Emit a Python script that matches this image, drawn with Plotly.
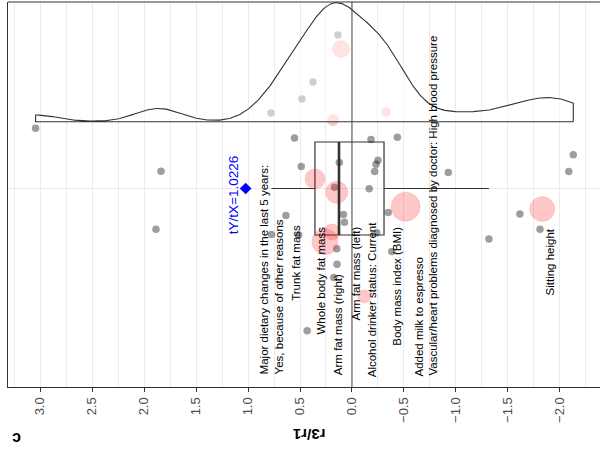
import numpy as np
import plotly.graph_objects as go

# ---- data -------------------------------------------------------------
# r3/r1 ratio of every feature (grey markers) and its vertical jitter
grey_ratio = [3.043, 1.837, 1.885, 0.779, 0.481, 0.375, 0.135, 0.553, 0.488,
              0.122, -0.183, -0.436, -0.250, -0.231, -0.218, -0.165, 0.168,
              0.082, 0.072, -0.926, -0.349, -0.238, -0.383, 0.146, 0.144,
              0.175, 0.635, 0.774, 0.513, 0.431, -2.128, -2.085, -1.615,
              -1.808, -1.317]
grey_jitter = [0.602, 0.172, -0.408, 0.755, 0.895, 1.065, 1.535, 0.505, 0.220,
               0.260, 0.490, 0.512, 0.282, 0.243, 0.170, -0.002, 0.012,
               -0.260, -0.338, 0.160, -0.240, -0.442, -0.630, -0.602, -0.757,
               -0.890, -0.270, -0.460, -0.465, -1.422, 0.338, 0.170, -0.255,
               -0.408, -0.505]

# highlighted features (red bubbles), bubble weight sets the marker size
red_ratio = [0.106, 0.183, -0.327, 0.356, 0.147, 0.260, 0.192, -0.118,
             -0.516, -1.830]
red_jitter = [1.395, 0.685, 0.765, 0.095, -0.038, -0.532, -0.435, -1.080,
              -0.182, -0.205]
red_weight = [1.7, 1.1, 0.9, 2.0, 2.2, 2.6, 1.6, 1.3, 2.9, 2.5]

# box summary of all ratios
box_low, box_q1, box_median, box_q3, box_high = -1.317, -0.308, 0.125, 0.356, 0.774

# overall time ratio
ty_tx = 1.0226

# feature labels
label_text = [
    "Major dietary changes in the last 5 years:<br>Yes, because of other reasons",
    "Trunk fat mass",
    "Whole body fat mass",
    "Arm fat mass (right)",
    "Arm fat mass (left)",
    "Alcohol drinker status: Current",
    "Body mass index (BMI)",
    "Added milk to espresso",
    "Vascular/heart problems diagnosed by doctor: High blood pressure",
    "Sitting height",
]

# ---- layout constants -------------------------------------------------
label_x = [0.775, 0.540, 0.300, 0.138, -0.034, -0.190, -0.426, -0.640, -0.775, -1.904]
label_y = [-1.875, -1.145, -1.482, -1.885, -1.345, -1.905, -1.595, -1.905, -1.895, -1.085]
violin_base = 0.668
violin_height = 1.19
box_width = 0.93
FONT = "Liberation Sans, Arial, sans-serif"
INK = "#333333"

# ---- density of all ratios (gaussian kernel, nrd0 bandwidth) ----------
vals = np.array(grey_ratio + red_ratio)
n = len(vals)
iqr = np.percentile(vals, 75) - np.percentile(vals, 25)
bw = 0.9 * min(vals.std(ddof=1), iqr / 1.34) * n ** -0.2
grid = np.linspace(vals.min(), vals.max(), 512)
dens = np.exp(-0.5 * ((grid[:, None] - vals[None, :]) / bw) ** 2).sum(axis=1)
dens = dens / dens.max() * violin_height
vx = np.concatenate([[grid[0]], grid, [grid[-1], grid[0]]])
vy = np.concatenate([[violin_base], violin_base + dens, [violin_base, violin_base]])

fig = go.Figure()

fig.add_trace(go.Scatter(
    x=grey_ratio, y=grey_jitter, mode="markers",
    marker=dict(size=7.5, color="rgba(0,0,0,0.38)", line=dict(width=0)),
    hoverinfo="skip", showlegend=False))

fig.add_trace(go.Scatter(
    x=red_ratio, y=red_jitter, mode="markers",
    marker=dict(size=red_weight, sizemode="diameter", sizeref=0.1,
                color="rgba(255,0,0,0.30)",
                line=dict(width=1, color="rgba(255,60,60,0.25)")),
    hoverinfo="skip", showlegend=False))

# half violin drawn over the markers with a translucent white fill
fig.add_trace(go.Scatter(
    x=vx, y=vy, mode="lines", fill="toself",
    fillcolor="rgba(255,255,255,0.5)",
    line=dict(color=INK, width=1.1),
    hoverinfo="skip", showlegend=False))

fig.add_trace(go.Box(
    y=[0], q1=[box_q1], median=[box_median], q3=[box_q3],
    lowerfence=[box_low], upperfence=[box_high],
    orientation="h", width=box_width, whiskerwidth=0,
    fillcolor="rgba(0,0,0,0)", line=dict(color=INK, width=1.2),
    boxpoints=False, hoverinfo="skip", showlegend=False))

fig.add_trace(go.Scatter(
    x=[ty_tx], y=[0], mode="markers",
    marker=dict(symbol="diamond", size=9, color="#0000ff"),
    hoverinfo="skip", showlegend=False))

shapes = [
    # thick median line
    dict(type="line", xref="x", yref="y", x0=box_median, x1=box_median,
         y0=-box_width / 2, y1=box_width / 2, line=dict(color=INK, width=2.6)),
    # reference line at ratio 0
    dict(type="line", xref="x", yref="paper", x0=0, x1=0, y0=0, y1=1,
         line=dict(color="#444444", width=1), layer="above"),
    # top frame
    dict(type="line", xref="paper", yref="paper", x0=0, x1=1, y0=1, y1=1,
         line=dict(color=INK, width=1.2)),
]

annotations = []
for t, x, y in zip(label_text, label_x, label_y):
    annotations.append(dict(
        x=x, y=y, xref="x", yref="y", text=t, textangle=-90,
        xanchor="center", yanchor="bottom", align="left", showarrow=False,
        font=dict(family=FONT, size=11.5, color="#000000")))

annotations.append(dict(
    x=ty_tx + 0.12, y=-0.065, xref="x", yref="y", text=f"tY/tX={ty_tx}",
    textangle=-90, xanchor="center", yanchor="middle", showarrow=False,
    font=dict(family=FONT, size=13.5, color="#0000ff")))

annotations.append(dict(
    x=0.508, y=-0.122, xref="paper", yref="paper", text="<b>r3/r1</b>",
    textangle=180, xanchor="center", yanchor="middle", showarrow=False,
    font=dict(family=FONT, size=15, color="#000000")))

annotations.append(dict(
    x=0.0143, y=-0.132, xref="paper", yref="paper", text="<b>c</b>",
    textangle=180, xanchor="center", yanchor="middle", showarrow=False,
    font=dict(family=FONT, size=16, color="#000000")))

fig.update_layout(
    width=600, height=451,
    margin=dict(l=8, r=0, t=2, b=64),
    paper_bgcolor="white", plot_bgcolor="white",
    font=dict(family=FONT),
    shapes=shapes, annotations=annotations,
    xaxis=dict(
        range=[3.308, -2.385], tickmode="linear", tick0=0, dtick=0.5,
        tickformat=".1f", tickangle=-90,
        ticks="outside", ticklen=4, tickcolor=INK,
        tickfont=dict(family=FONT, size=13, color="#4d4d4d"),
        showgrid=True, gridcolor="#ebebeb", gridwidth=1,
        minor=dict(dtick=0.25, tick0=0, showgrid=True, gridcolor="#ebebeb", gridwidth=1),
        zeroline=False, showline=True, linecolor=INK, linewidth=1.2),
    yaxis=dict(
        range=[-1.985, 1.865], tickvals=[0], showticklabels=False,
        showgrid=True, gridcolor="#ebebeb", gridwidth=1, ticks="",
        zeroline=False, showline=True, linecolor=INK, linewidth=1.2),
)

fig.write_html("out.html")
